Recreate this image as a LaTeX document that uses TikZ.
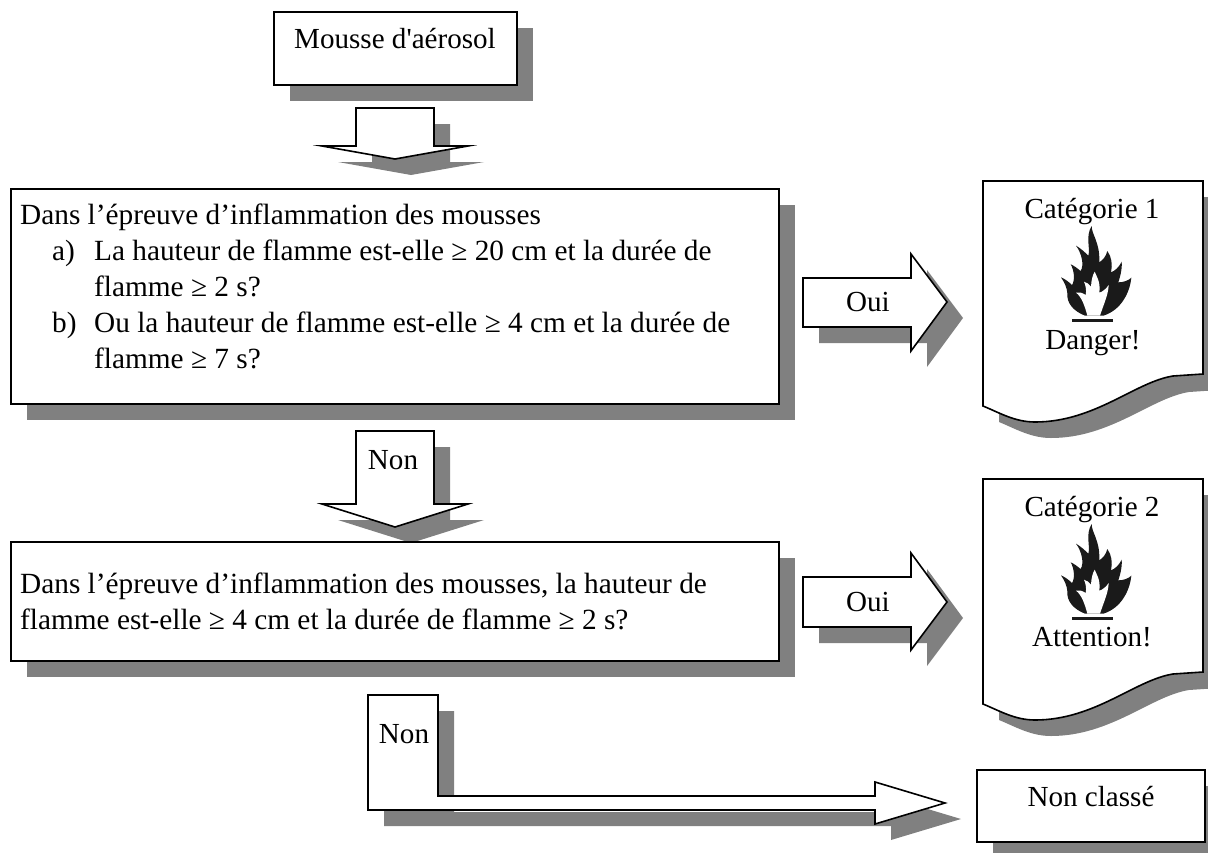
\documentclass[tikz,border=0pt]{standalone}
\usepackage{fontspec}
\setmainfont{Liberation Serif}
\newfontfamily\plainserif{Liberation Serif}
\usetikzlibrary{shadows}
\definecolor{shadowgray}{HTML}{808080}
\definecolor{flameblack}{HTML}{1A1A1A}
\tikzset{
  x=1pt,y=-1pt,
  softshadow/.style={general shadow={shadow xshift=16pt,shadow yshift=-16pt,fill=shadowgray}},
  shape outline/.style={draw=black,fill=white,line width=1.6pt,line join=miter,miter limit=20,softshadow},
  boxnode/.style={shape outline,rectangle,anchor=north west,inner sep=0pt,outer sep=0pt},
  label text/.style={anchor=base,inner sep=0pt,font=\fontsize{29.1}{36}\selectfont},
  body text/.style={anchor=north west,inner sep=0pt,align=left,font=\fontsize{29.3}{35.8}\selectfont},
}
\newcommand{\flamepic}{%
  \begin{scope}[scale=1/3]
  \fill[flameblack] (125,3) .. controls (125,30) and (150,50) .. (148,112)
    .. controls (158,105) and (168,95) .. (172,78)
    .. controls (185,95) and (188,120) .. (183,142)
    .. controls (195,138) and (208,125) .. (215,110)
    .. controls (217,135) and (210,155) .. (205,172)
    .. controls (220,172) and (235,167) .. (244,158)
    .. controls (240,200) and (215,255) .. (160,272)
    -- (105,272)
    .. controls (70,258) and (50,235) .. (52,205)
    .. controls (52,190) and (42,170) .. (33,157)
    .. controls (45,162) and (58,172) .. (66,180)
    .. controls (76,165) and (72,135) .. (62,118)
    .. controls (72,122) and (82,130) .. (92,138)
    .. controls (103,120) and (95,85) .. (78,62)
    .. controls (92,70) and (105,82) .. (115,92)
    .. controls (122,70) and (105,35) .. (125,3) -- cycle;
  \fill[white] (112,272) .. controls (105,245) and (95,215) .. (78,203)
    .. controls (88,200) and (98,204) .. (107,210)
    .. controls (110,195) and (107,182) .. (102,170)
    .. controls (110,172) and (118,178) .. (123,185)
    .. controls (124,165) and (128,150) .. (134,140)
    .. controls (140,155) and (152,170) .. (148,203)
    .. controls (158,200) and (168,192) .. (176,180)
    .. controls (175,210) and (160,240) .. (150,272) -- cycle;
  \fill[flameblack] (66,281) rectangle (190,290);
  \end{scope}}
\newcommand{\docshape}{(983,181) -- (1203,181) -- (1203,374) -- (1173,376)
  .. controls (1135,382) and (1095,422) .. (1035,422)
  .. controls (1015,422) and (1000,413) .. (983,406) -- cycle}
\begin{document}
\begin{tikzpicture}
\useasboundingbox (0,0) rectangle (1208,852);
% top box
\node[boxnode,minimum width=243pt,minimum height=73pt] (mousse) at (274,12) {};
\node[label text] (mousselabel) at (395,48) {\plainserif Mousse d'aérosol};
% first arrow
\path[shape outline] (356,108) -- (434,108) -- (434,146) -- (468,146) -- (395,159) -- (322,146) -- (356,146) -- cycle;
% box 2
\node[boxnode,minimum width=768pt,minimum height=215pt] (q1) at (11,189) {};
\node[body text] (q1text) at (20,204) {Dans l’épreuve d’inflammation des mousses\\
\hspace{32pt}\makebox[42pt][l]{a)}La hauteur de flamme est-elle ≥ 20 cm et la durée de\\
\hspace{74pt}flamme ≥ 2 s?\\
\hspace{32pt}\makebox[42pt][l]{b)}Ou la hauteur de flamme est-elle ≥ 4 cm et la durée de\\
\hspace{74pt}flamme ≥ 7 s?};
% oui arrow 1
\path[shape outline] (803,278) -- (911,278) -- (911,254) -- (947,302) -- (911,351) -- (911,327) -- (803,327) -- cycle;
\node[label text] (oui1) at (868,311) {Oui};
% doc 1
\path[shape outline] \docshape;
\node[label text] (cat1) at (1092,218) {Catégorie 1};
\begin{scope}[shift={(1050,225)}]\flamepic\end{scope}
\node[label text] (danger) at (1093,349) {Danger!};
% Non arrow
\path[shape outline] (356,431) -- (434,431) -- (434,504) -- (468,504) -- (395,527) -- (322,504) -- (356,504) -- cycle;
\node[label text] (non1) at (393,469) {Non};
% box 3
\node[boxnode,minimum width=768pt,minimum height=119pt] (q2) at (11,542) {};
\node[body text] (q2text) at (20,573) {Dans l’épreuve d’inflammation des mousses, la hauteur de\\
flamme est-elle ≥ 4 cm et la durée de flamme ≥ 2 s?};
% oui arrow 2
\path[shape outline] (803,577) -- (911,577) -- (911,553) -- (947,602) -- (911,650) -- (911,627) -- (803,627) -- cycle;
\node[label text] (oui2) at (868,611) {Oui};
% doc 2
\begin{scope}[shift={(0,298)}]
\path[shape outline] \docshape;
\end{scope}
\node[label text] (cat2) at (1092,516) {Catégorie 2};
\begin{scope}[shift={(1050,523)}]\flamepic\end{scope}
\node[label text] (attention) at (1092,646) {Attention!};
% bottom arrow
\path[shape outline] (368,695) -- (438,695) -- (438,796) -- (875,796) -- (875,782) -- (945,803) -- (875,824) -- (875,810) -- (368,810) -- cycle;
\node[label text] (non2) at (404,743) {Non};
% non classe
\node[boxnode,minimum width=228pt,minimum height=72pt] (nc) at (977,770) {};
\node[label text] (nclabel) at (1091,806) {Non classé};
\end{tikzpicture}
\end{document}
